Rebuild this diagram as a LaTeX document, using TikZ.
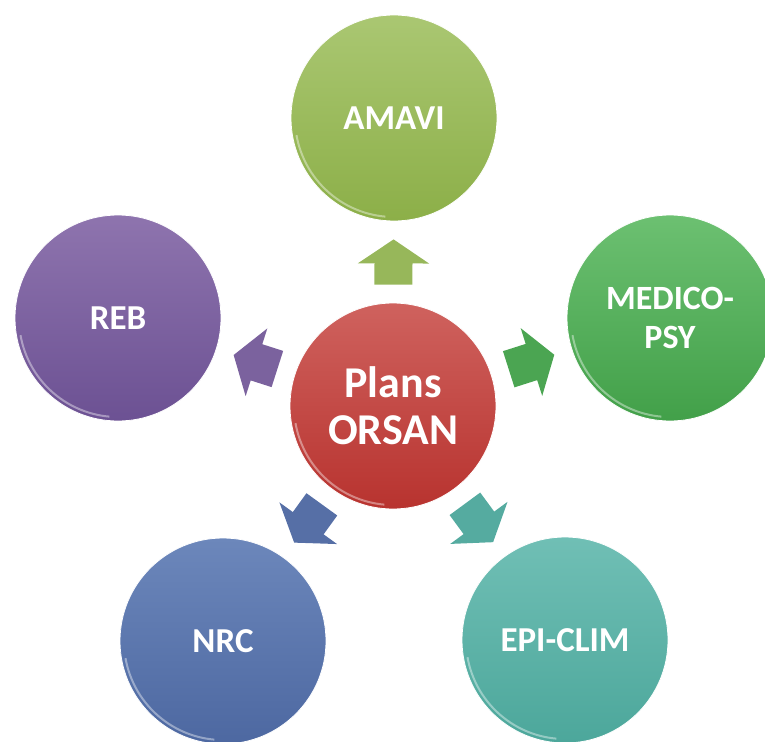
\documentclass[tikz,border=0pt]{standalone}
\usepackage{fontspec}
\setmainfont{Carlito}
\usetikzlibrary{arrows.meta}

\definecolor{redTop}{HTML}{CF625E}
\definecolor{redBot}{HTML}{B8332F}
\definecolor{olvTop}{HTML}{AAC772}
\definecolor{olvBot}{HTML}{8CAF48}
\definecolor{grnTop}{HTML}{6CC071}
\definecolor{grnBot}{HTML}{42A049}
\definecolor{prpTop}{HTML}{8E74AE}
\definecolor{prpBot}{HTML}{6C5193}
\definecolor{bluTop}{HTML}{6C87BB}
\definecolor{bluBot}{HTML}{4D68A1}
\definecolor{tealTop}{HTML}{70BFB5}
\definecolor{tealBot}{HTML}{4CA79B}

\tikzset{
  bubble/.style={circle, minimum size=206pt, inner sep=0pt, align=center,
    text=white, font=\bfseries\fontsize{35}{39}\selectfont,
    draw=white, line width=0.8pt,
    path picture={\draw[white, opacity=.4, line width=2pt]
      (path picture bounding box.center) ++(190:99pt)
      arc[start angle=190, end angle=265, radius=99pt];}},
  flow/.style={line width=38pt, -{Triangle[width=70pt,length=24pt]},
    shorten <=18pt, shorten >=18pt},
}

\begin{document}
\begin{tikzpicture}[x=1pt,y=-1pt]
  \useasboundingbox (0,0) rectangle (765,741);
  \node[bubble, top color=redTop, bottom color=redBot,
        font=\bfseries\fontsize{44}{47}\selectfont] (orsan) at (393,406) {Plans\\ORSAN};
  \node[bubble, top color=olvTop, bottom color=olvBot] (amavi) at (394,118) {AMAVI};
  \node[bubble, top color=grnTop, bottom color=grnBot,
        font=\bfseries\fontsize{34}{39}\selectfont] (medico) at (670,318) {MEDICO-\\PSY};
  \node[bubble, top color=prpTop, bottom color=prpBot] (reb) at (118,318) {REB};
  \node[bubble, top color=bluTop, bottom color=bluBot] (nrc) at (223,641) {NRC};
  \node[bubble, top color=tealTop, bottom color=tealBot] (epi) at (565,640) {EPI-CLIM};
  \begin{scope}[flow]
    \draw[olvBot!90!white] (orsan) to (amavi);
    \draw[grnBot!95!white] (orsan) to (medico);
    \draw[prpBot!90!white] (orsan) to (reb);
    \draw[bluBot!95!white] (orsan) to (nrc);
    \draw[tealBot!95!white] (orsan) to (epi);
  \end{scope}
\end{tikzpicture}
\end{document}
